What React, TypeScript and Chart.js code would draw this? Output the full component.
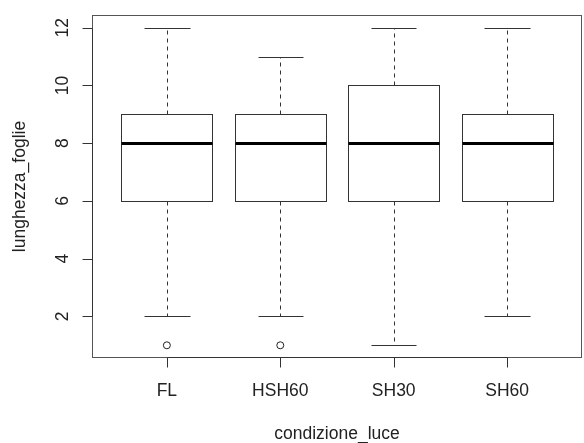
import React, { useEffect, useRef } from "react";
import { Chart, registerables } from "chart.js";

Chart.register(...registerables);

const categories = ["FL", "HSH60", "SH30", "SH60"];
const mins = [2, 2, 1, 2];
const q1s = [6, 6, 6, 6];
const medians = [8, 8, 8, 8];
const q3s = [9, 9, 10, 9];
const maxs = [12, 11, 12, 12];
const outlierCat = [1, 2];
const outlierVal = [1, 1];
const yTicks = [2, 4, 6, 8, 10, 12];
const xTitle = "condizione_luce";
const yTitle = "lunghezza_foglie";

const FONT = "17.5px 'Liberation Sans', Arial, sans-serif";
const LINE = "#333";
const TEXT = "#222";

const boxPlugin = {
  id: "boxes",
  beforeDatasetsDraw(chart: any) {
    const { ctx, scales } = chart;
    const xs = scales.x;
    const ys = scales.y;
    ctx.save();
    categories.forEach((_, i) => {
      const c = i + 1;
      const xc = Math.round(xs.getPixelForValue(c)) + 0.5;
      const xl = Math.round(xs.getPixelForValue(c - 0.4)) + 0.5;
      const xr = Math.round(xs.getPixelForValue(c + 0.4)) + 0.5;
      const cl = Math.round(xs.getPixelForValue(c - 0.2)) + 0.5;
      const cr = Math.round(xs.getPixelForValue(c + 0.2)) + 0.5;
      const py = (v: number) => Math.round(ys.getPixelForValue(v)) + 0.5;
      ctx.strokeStyle = LINE;
      ctx.lineWidth = 1;
      ctx.setLineDash([4, 4]);
      ctx.beginPath();
      ctx.moveTo(xc, py(q3s[i]));
      ctx.lineTo(xc, py(maxs[i]));
      ctx.moveTo(xc, py(q1s[i]));
      ctx.lineTo(xc, py(mins[i]));
      ctx.stroke();
      ctx.setLineDash([]);
      ctx.beginPath();
      ctx.moveTo(cl, py(maxs[i]));
      ctx.lineTo(cr, py(maxs[i]));
      ctx.moveTo(cl, py(mins[i]));
      ctx.lineTo(cr, py(mins[i]));
      ctx.stroke();
      ctx.fillStyle = "#fff";
      ctx.fillRect(xl, py(q3s[i]), xr - xl, py(q1s[i]) - py(q3s[i]));
      ctx.strokeRect(xl, py(q3s[i]), xr - xl, py(q1s[i]) - py(q3s[i]));
      ctx.strokeStyle = "#000";
      ctx.lineWidth = 3;
      ctx.beginPath();
      ctx.moveTo(xl, Math.round(ys.getPixelForValue(medians[i])) + 0.5);
      ctx.lineTo(xr, Math.round(ys.getPixelForValue(medians[i])) + 0.5);
      ctx.stroke();
    });
    ctx.restore();
  },
  afterDraw(chart: any) {
    const { ctx, scales, chartArea } = chart;
    const xs = scales.x;
    const ys = scales.y;
    ctx.save();
    ctx.strokeStyle = "#555";
    ctx.lineWidth = 1;
    ctx.strokeRect(
      chartArea.left + 0.5,
      chartArea.top + 0.5,
      chartArea.right - chartArea.left - 1,
      chartArea.bottom - chartArea.top - 1
    );
    ctx.strokeStyle = LINE;
    ctx.fillStyle = TEXT;
    ctx.font = FONT;
    const yTop = Math.round(ys.getPixelForValue(yTicks[yTicks.length - 1])) + 0.5;
    const yBot = Math.round(ys.getPixelForValue(yTicks[0])) + 0.5;
    const ax = chartArea.left + 0.5;
    ctx.beginPath();
    ctx.moveTo(ax, yTop);
    ctx.lineTo(ax, yBot);
    yTicks.forEach((t) => {
      const y = Math.round(ys.getPixelForValue(t)) + 0.5;
      ctx.moveTo(ax - 10, y);
      ctx.lineTo(ax, y);
    });
    ctx.stroke();
    yTicks.forEach((t) => {
      const y = ys.getPixelForValue(t);
      ctx.save();
      ctx.translate(68, y);
      ctx.rotate(-Math.PI / 2);
      ctx.textAlign = "center";
      ctx.textBaseline = "alphabetic";
      ctx.fillText(String(t), 0, 0);
      ctx.restore();
    });
    const bx = chartArea.bottom - 0.5;
    const x1 = Math.round(xs.getPixelForValue(1)) + 0.5;
    const x4 = Math.round(xs.getPixelForValue(categories.length)) + 0.5;
    ctx.beginPath();
    ctx.moveTo(x1, bx);
    ctx.lineTo(x4, bx);
    categories.forEach((_, i) => {
      const x = Math.round(xs.getPixelForValue(i + 1)) + 0.5;
      ctx.moveTo(x, bx);
      ctx.lineTo(x, bx + 10);
    });
    ctx.stroke();
    ctx.textAlign = "center";
    ctx.textBaseline = "alphabetic";
    categories.forEach((c, i) => {
      ctx.fillText(c, xs.getPixelForValue(i + 1), 396);
    });
    ctx.fillText(xTitle, (chartArea.left + chartArea.right) / 2, 439);
    ctx.save();
    ctx.translate(25, (chartArea.top + chartArea.bottom) / 2);
    ctx.rotate(-Math.PI / 2);
    ctx.fillText(yTitle, 0, 0);
    ctx.restore();
    ctx.restore();
  },
};

export default function App() {
  const ref = useRef<HTMLCanvasElement | null>(null);
  useEffect(() => {
    document.body.style.margin = "0";
    const canvas = ref.current;
    if (!canvas) return;
    const chart = new Chart(canvas, {
      type: "scatter",
      data: {
        datasets: [
          {
            data: outlierCat.map((c, i) => ({ x: c, y: outlierVal[i] })),
            pointStyle: "circle",
            pointRadius: 3.5,
            borderColor: "#222",
            backgroundColor: "rgba(0,0,0,0)",
            borderWidth: 1,
          },
        ],
      },
      plugins: [boxPlugin],
      options: {
        animation: false,
        responsive: false,
        devicePixelRatio: 1,
        layout: { autoPadding: false, padding: { left: 92, top: 15, right: 2, bottom: 85 } },
        plugins: { legend: { display: false }, tooltip: { enabled: false } },
        scales: {
          x: { type: "linear", min: 0.34, max: 4.66, display: false },
          y: { type: "linear", min: 0.56, max: 12.44, display: false },
        },
      },
    });
    return () => chart.destroy();
  }, []);
  return (
    <div style={{ width: 584, height: 443, background: "#fff" }}>
      <canvas ref={ref} width={584} height={443} style={{ display: "block", width: 584, height: 443 }} />
    </div>
  );
}
